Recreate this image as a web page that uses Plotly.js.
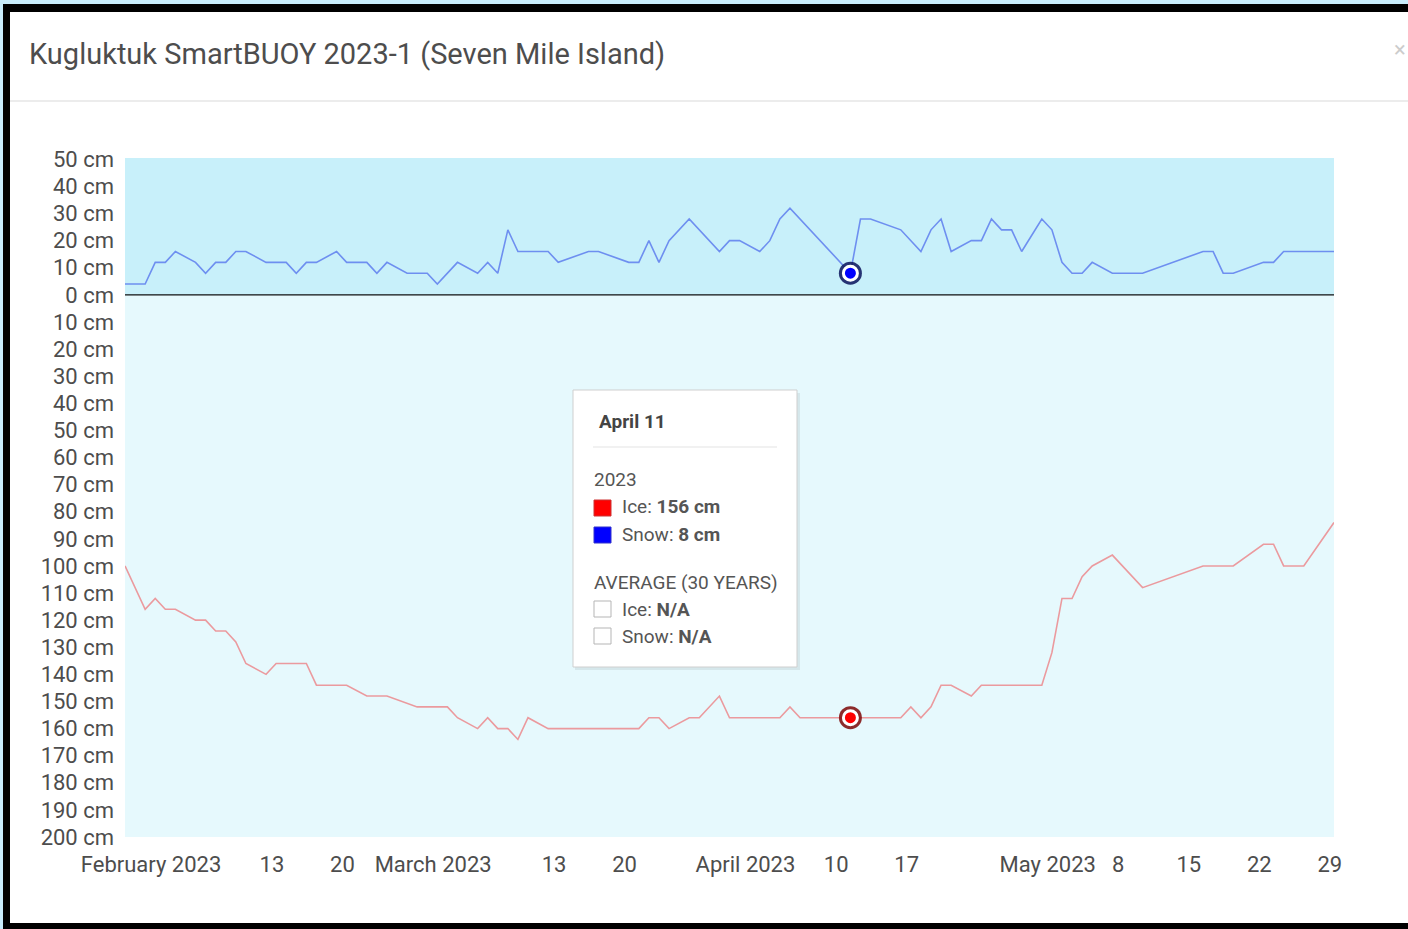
<!DOCTYPE html>
<html><head><meta charset="utf-8">
<script src="https://cdn.plot.ly/plotly-3.0.1.min.js"></script>
<style>
html,body{margin:0;padding:0;width:1408px;height:929px;overflow:hidden;background:#000;}
#topstrip{position:absolute;left:0;top:0;width:1408px;height:4px;background:#c8ecfb;}
#leftstrip{position:absolute;left:0;top:0;width:3px;height:929px;background:#c8ecfb;}
#frame{position:absolute;left:10px;top:12px;width:1398px;height:911px;background:#fff;}
#chart{position:absolute;left:0;top:0;width:1408px;height:929px;}
</style></head><body>
<div id="topstrip"></div><div id="leftstrip"></div><div id="frame"></div><div id="chart"></div>
<script>
// ---- data ----
const chartTitle = 'Kugluktuk SmartBUOY 2023-1 (Seven Mile Island)';
const readingTime = ' 10:00';

const snowDates = ['2023-01-29','2023-01-31','2023-02-01','2023-02-02','2023-02-03','2023-02-05','2023-02-06','2023-02-07','2023-02-08','2023-02-09','2023-02-10','2023-02-12','2023-02-14','2023-02-15','2023-02-16','2023-02-17','2023-02-19','2023-02-20','2023-02-22','2023-02-23','2023-02-24','2023-02-26','2023-02-28','2023-03-01','2023-03-03','2023-03-05','2023-03-06','2023-03-07','2023-03-08','2023-03-09','2023-03-12','2023-03-13','2023-03-16','2023-03-17','2023-03-20','2023-03-21','2023-03-22','2023-03-23','2023-03-24','2023-03-26','2023-03-29','2023-03-30','2023-03-31','2023-04-02','2023-04-03','2023-04-04','2023-04-05','2023-04-11','2023-04-12','2023-04-13','2023-04-16','2023-04-18','2023-04-19','2023-04-20','2023-04-21','2023-04-23','2023-04-24','2023-04-25','2023-04-26','2023-04-27','2023-04-28','2023-04-30','2023-05-01','2023-05-02','2023-05-03','2023-05-04','2023-05-05','2023-05-07','2023-05-10','2023-05-16','2023-05-17','2023-05-18','2023-05-19','2023-05-22','2023-05-23','2023-05-24','2023-05-29'];
const snowCm = [4,4,12,12,16,12,8,12,12,16,16,12,12,8,12,12,16,12,12,8,12,8,8,4,12,8,12,8,24,16,16,12,16,16,12,12,20,12,20,28,16,20,20,16,20,28,32,8,28,28,24,16,24,28,16,20,20,28,24,24,16,28,24,12,8,8,12,8,8,16,16,8,8,12,12,16,16];

const iceDates = ['2023-01-29','2023-01-31','2023-02-01','2023-02-02','2023-02-03','2023-02-05','2023-02-06','2023-02-07','2023-02-08','2023-02-09','2023-02-10','2023-02-12','2023-02-13','2023-02-16','2023-02-17','2023-02-20','2023-02-22','2023-02-24','2023-02-27','2023-03-02','2023-03-03','2023-03-05','2023-03-06','2023-03-07','2023-03-08','2023-03-09','2023-03-10','2023-03-12','2023-03-21','2023-03-22','2023-03-23','2023-03-24','2023-03-26','2023-03-27','2023-03-29','2023-03-30','2023-04-04','2023-04-05','2023-04-06','2023-04-11','2023-04-16','2023-04-17','2023-04-18','2023-04-19','2023-04-20','2023-04-21','2023-04-23','2023-04-24','2023-04-30','2023-05-01','2023-05-02','2023-05-03','2023-05-04','2023-05-05','2023-05-07','2023-05-10','2023-05-16','2023-05-19','2023-05-22','2023-05-23','2023-05-24','2023-05-26','2023-05-29'];
const iceCm = [100,116,112,116,116,120,120,124,124,128,136,140,136,136,144,144,148,148,152,152,156,160,156,160,160,164,156,160,160,156,156,160,156,156,148,156,156,152,156,156,156,152,156,152,144,144,148,144,144,132,112,112,104,100,96,108,100,100,92,92,100,100,84];

const selectedDate = '2023-04-11';
const selectedLabel = 'April 11';
const selectedYear = '2023';

const xTickDates = ['2023-02-01','2023-02-13','2023-02-20','2023-03-01','2023-03-13','2023-03-20','2023-04-01','2023-04-10','2023-04-17','2023-05-01','2023-05-08','2023-05-15','2023-05-22','2023-05-29'];
const xTickLabels = ['February 2023','13','20','March 2023','13','20','April 2023','10','17','May 2023','8','15','22','29'];
const xRange = ['2023-01-29 10:00','2023-05-29 10:00'];

const yTickValues = [50,40,30,20,10,0,-10,-20,-30,-40,-50,-60,-70,-80,-90,-100,-110,-120,-130,-140,-150,-160,-170,-180,-190,-200];
const yRange = [-200, 50.5];

// ---- build ----
const W = 1408, H = 929, L = 125, R = 74, T = 158, B = 92;
const PW = W - L - R, PH = H - T - B;
const px = v => (v - L) / PW;
const py = v => (H - B - v) / PH;

const snowX = snowDates.map(d => d + readingTime);
const iceX = iceDates.map(d => d + readingTime);
const iceY = iceCm.map(v => -v);

const si = snowDates.indexOf(selectedDate);
const ii = iceDates.indexOf(selectedDate);
const selSnow = snowCm[si], selIce = iceCm[ii];

const traces = [
  {type:'scatter', mode:'lines', x: snowX, y: snowCm, line:{color:'#6e8ff0', width:1.6}, hoverinfo:'skip'},
  {type:'scatter', mode:'lines', x: iceX, y: iceY, line:{color:'#eb9a9e', width:1.6}, hoverinfo:'skip'},
  {type:'scatter', mode:'markers', x:[snowX[si]], y:[selSnow], marker:{size:23, color:'rgba(20,30,100,0.9)'}, hoverinfo:'skip'},
  {type:'scatter', mode:'markers', x:[snowX[si]], y:[selSnow], marker:{size:14, color:'#0000ff', line:{color:'#ffffff', width:3}}, hoverinfo:'skip'},
  {type:'scatter', mode:'markers', x:[iceX[ii]], y:[-selIce], marker:{size:23, color:'rgba(130,20,20,0.9)'}, hoverinfo:'skip'},
  {type:'scatter', mode:'markers', x:[iceX[ii]], y:[-selIce], marker:{size:14, color:'#ff0000', line:{color:'#ffffff', width:3}}, hoverinfo:'skip'}
];

const shapes = [
  {type:'rect', layer:'below', xref:'paper', yref:'y', x0:0, x1:1, y0:0, y1:50.5, fillcolor:'#c8f0fa', line:{width:0}},
  {type:'rect', layer:'below', xref:'paper', yref:'y', x0:0, x1:1, y0:-200, y1:0, fillcolor:'#e6f9fd', line:{width:0}},
  {type:'line', xref:'paper', yref:'y', x0:0, x1:1, y0:0, y1:0, line:{color:'#111', width:1.3}},
  // header separator
  {type:'line', xref:'paper', yref:'paper', x0:px(10), x1:px(1408), y0:py(101), y1:py(101), line:{color:'#e6e6e6', width:1.5}},
  // tooltip box
  {type:'rect', xref:'paper', yref:'paper', x0:px(575), x1:px(800), y0:py(393), y1:py(670), fillcolor:'rgba(0,0,0,0.07)', line:{width:0}},
  {type:'rect', xref:'paper', yref:'paper', x0:px(573), x1:px(797), y0:py(390), y1:py(667), fillcolor:'#ffffff', line:{color:'#cfcfcf', width:1}},
  {type:'line', xref:'paper', yref:'paper', x0:px(593), x1:px(777), y0:py(447), y1:py(447), line:{color:'#e3e3e3', width:1}},
  {type:'rect', xref:'paper', yref:'paper', x0:px(594), x1:px(611), y0:py(500), y1:py(516), fillcolor:'#ff0000', line:{color:'#cc3333', width:1}},
  {type:'rect', xref:'paper', yref:'paper', x0:px(594), x1:px(611), y0:py(527), y1:py(543), fillcolor:'#0000ff', line:{color:'#3333cc', width:1}},
  {type:'rect', xref:'paper', yref:'paper', x0:px(594), x1:px(611), y0:py(601), y1:py(617), fillcolor:'#ffffff', line:{color:'#b5b5b5', width:1}},
  {type:'rect', xref:'paper', yref:'paper', x0:px(594), x1:px(611), y0:py(628), y1:py(644), fillcolor:'#ffffff', line:{color:'#b5b5b5', width:1}}
];

const tf = {family:'Roboto, sans-serif', size:19, color:'#555'};
const ann = (x, y, text, font) => ({xref:'paper', yref:'paper', x:px(x), y:py(y), xanchor:'left', yanchor:'middle', showarrow:false, text, font: font || tf});
const annotations = [
  ann(597, 422, '<b>' + selectedLabel + '</b>', {family:'Roboto, sans-serif', size:19, color:'#444'}),
  ann(592, 479, selectedYear),
  ann(620, 507, 'Ice: <b>' + selIce + ' cm</b>'),
  ann(620, 534, 'Snow: <b>' + selSnow + ' cm</b>'),
  ann(592, 582, 'AVERAGE (30 YEARS)'),
  ann(620, 609, 'Ice: <b>N/A</b>'),
  ann(620, 636, 'Snow: <b>N/A</b>'),
  {xref:'paper', yref:'paper', x:px(1400), y:py(50), xanchor:'center', yanchor:'middle', showarrow:false, text:'×', font:{family:'Roboto, sans-serif', size:22, color:'#cccccc'}}
];

const layout = {
  width: W, height: H,
  margin: {l:L, r:R, t:T, b:B, pad:0},
  paper_bgcolor: 'rgba(0,0,0,0)',
  plot_bgcolor: 'rgba(0,0,0,0)',
  showlegend: false,
  hovermode: false,
  title: {text: chartTitle, xref:'container', yref:'container', x: 29/W, xanchor:'left', y: 1 - 54/H, yanchor:'middle',
          font:{family:'Roboto, sans-serif', size:29, color:'#4d4d4d'}},
  xaxis: {type:'date', range: xRange, tickmode:'array', tickvals: xTickDates, ticktext: xTickLabels,
          showgrid:false, zeroline:false, showline:false, ticks:'', ticklabelstandoff: 12,
          tickfont:{family:'Roboto, sans-serif', size:22, color:'#4d4d4d'}},
  yaxis: {range: yRange, tickmode:'array', tickvals: yTickValues, ticktext: yTickValues.map(v => Math.abs(v) + ' cm'),
          showgrid:false, zeroline:false, showline:false, ticks:'', ticklabelstandoff: 10,
          tickfont:{family:'Roboto, sans-serif', size:22, color:'#4d4d4d'}},
  shapes, annotations
};

Plotly.newPlot('chart', traces, layout, {staticPlot:true, displayModeBar:false});
</script>
</body></html>
